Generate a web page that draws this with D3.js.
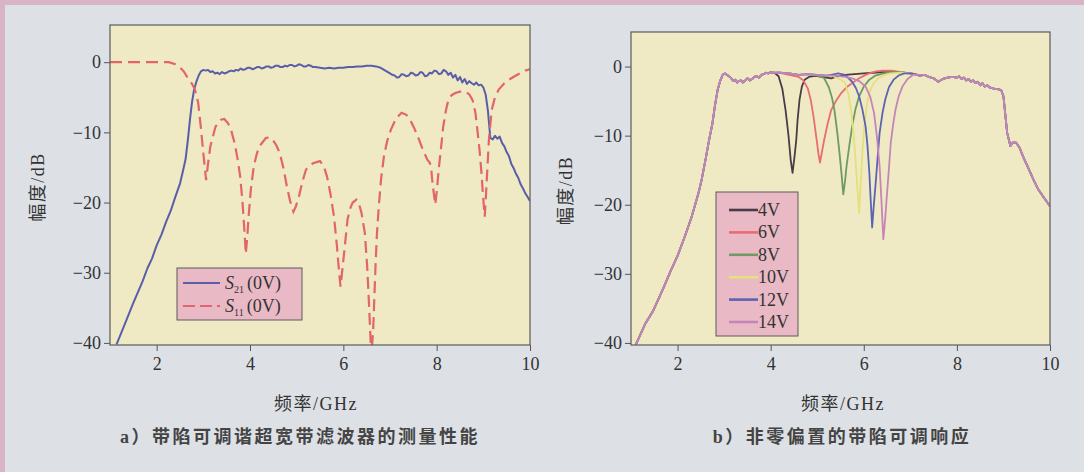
<!DOCTYPE html>
<html>
<head>
<meta charset="utf-8">
<script src="https://cdn.jsdelivr.net/npm/d3@7"></script>
<style>
  body { margin: 0; background: #dde1e6; }
  svg { display: block; }
  .tick text { font-family: "Liberation Serif", serif; font-size: 18px; fill: #333; }
  .ttl { font-family: "Liberation Serif", "Noto Sans CJK SC", serif; fill: #333; }
</style>
</head>
<body>
<svg id="chart" width="1084" height="472"></svg>
<script>
// ---- data: panel a) measured S21 / S11 at 0 V  [GHz, dB]
const s21 = [
  [1.14,-40.2],[1.3,-37.6],[1.5,-34.3],[1.7,-31.2],[1.8,-29.4],[1.9,-28.0],[2.0,-26.1],[2.1,-24.6],
  [2.2,-22.8],[2.3,-21.2],[2.4,-19.2],[2.5,-17.3],[2.56,-15.6],[2.62,-13.8],[2.67,-11.0],[2.72,-7.8],
  [2.76,-5.6],[2.8,-4.0],[2.85,-2.8],[2.9,-1.9],[2.95,-1.3],[3.0,-1.1],[3.05,-1.2],[3.1,-1.1],
  [3.15,-1.4],[3.2,-1.3],[3.25,-1.6],[3.3,-1.5],[3.35,-1.7],[3.4,-1.4],[3.45,-1.6],[3.5,-1.5],[3.55,-1.3],[3.6,-1.2],
  [3.65,-1.3],[3.7,-1.1],[3.75,-1.2],[3.8,-0.9],[3.85,-1.1],[3.9,-1.0],[3.95,-0.8],[4.0,-0.8],[4.05,-1.0],[4.1,-0.9],[4.15,-0.7],[4.2,-0.7],[4.25,-0.9],[4.3,-0.8],[4.35,-0.6],[4.4,-0.6],
  [4.45,-0.8],[4.5,-0.7],[4.55,-0.5],[4.6,-0.5],[4.65,-0.7],[4.7,-0.7],[4.75,-0.5],[4.8,-0.6],[4.85,-0.4],[4.9,-0.4],[4.95,-0.6],[5.0,-0.5],[5.05,-0.3],[5.1,-0.4],[5.15,-0.6],[5.2,-0.6],
  [5.25,-0.4],[5.3,-0.5],[5.35,-0.7],[5.4,-0.7],[5.5,-0.8],[5.6,-0.9],[5.7,-0.8],[5.8,-0.9],[5.9,-0.8],[6.0,-0.8],
  [6.1,-0.7],[6.2,-0.7],[6.3,-0.6],[6.4,-0.6],[6.5,-0.5],[6.6,-0.5],[6.7,-0.6],[6.8,-0.8],
  [6.9,-1.2],[7.0,-1.6],[7.05,-1.8],[7.1,-1.9],[7.15,-2.2],[7.2,-2.1],[7.25,-1.7],[7.3,-1.8],[7.35,-2.0],[7.4,-1.9],[7.45,-1.5],[7.5,-1.6],[7.55,-1.9],[7.6,-1.8],
  [7.65,-1.4],[7.7,-1.5],[7.75,-2.0],[7.8,-1.9],[7.85,-1.5],[7.9,-1.6],[7.95,-1.2],[8.0,-1.3],[8.05,-1.7],[8.1,-1.6],[8.15,-1.1],[8.2,-1.3],[8.25,-1.8],[8.3,-1.5],
  [8.35,-2.2],[8.4,-1.8],[8.45,-2.6],[8.5,-2.1],[8.55,-2.9],[8.6,-2.4],[8.65,-3.1],[8.7,-2.7],
  [8.75,-3.0],[8.8,-3.2],[8.85,-2.9],[8.9,-3.3],[8.95,-3.2],[9.0,-3.6],[9.05,-4.6],[9.1,-7.0],
  [9.15,-10.8],[9.2,-11.0],[9.25,-10.5],[9.3,-10.9],[9.35,-10.6],[9.4,-11.5],[9.45,-12.0],[9.5,-12.8],
  [9.55,-13.4],[9.6,-14.5],[9.65,-15.1],[9.7,-15.9],[9.75,-16.5],[9.8,-17.4],[9.85,-18.0],[9.9,-18.7],
  [9.95,-19.2],[10.0,-19.8]
];
const s11 = [
  [1.0,0],[1.5,0],[2.0,0],[2.26,0],[2.4,-0.3],[2.48,-0.6],[2.58,-1.3],[2.67,-2.3],[2.75,-3.0],
  [2.82,-3.9],[2.89,-5.8],[2.95,-9.5],[3.0,-13],[3.06,-16.8],[3.1,-14.5],[3.15,-12],[3.26,-9.2],
  [3.38,-8.2],[3.45,-8.1],[3.53,-8.7],[3.6,-9.8],[3.67,-11.5],[3.74,-14],[3.79,-16.3],[3.84,-20],
  [3.88,-24],[3.91,-27.3],[3.94,-25],[3.97,-22],[4.02,-18],[4.08,-14.9],[4.14,-13.2],[4.2,-12],
  [4.34,-10.8],[4.42,-10.7],[4.49,-11.1],[4.57,-11.9],[4.64,-13],[4.72,-15.2],[4.79,-17.7],
  [4.86,-19.8],[4.93,-21.3],[4.98,-20.6],[5.05,-19.1],[5.12,-17.1],[5.2,-15.3],[5.35,-14.4],
  [5.5,-14.1],[5.58,-14.8],[5.65,-16.3],[5.72,-18.6],[5.8,-22],[5.86,-26],[5.91,-30],[5.94,-32],
  [5.98,-29.5],[6.02,-27],[6.09,-22.4],[6.15,-20.8],[6.2,-20],[6.28,-19.6],[6.34,-20.3],[6.39,-21.5],
  [6.46,-24.3],[6.51,-29],[6.55,-34.5],[6.6,-42],[6.64,-38],[6.69,-29],[6.72,-24.5],[6.76,-20.5],
  [6.81,-16.6],[6.87,-13.4],[6.94,-11.2],[7.02,-9.6],[7.13,-8.0],[7.25,-7.2],[7.35,-7.5],[7.43,-8.2],
  [7.52,-9.4],[7.62,-11],[7.7,-12.4],[7.8,-13.9],[7.85,-14.3],[7.88,-14.9],[7.9,-16.5],[7.92,-17.7],
  [7.97,-20.3],[8.0,-18.5],[8.05,-14.9],[8.1,-11.8],[8.14,-9.2],[8.2,-6.8],[8.25,-5.4],[8.32,-4.7],
  [8.4,-4.4],[8.5,-4.2],[8.62,-4.2],[8.7,-4.6],[8.77,-5.4],[8.83,-7.2],[8.88,-10.1],[8.92,-12.6],
  [8.96,-15.8],[9.0,-19.6],[9.03,-22],[9.05,-19.8],[9.07,-17.2],[9.12,-11],[9.18,-6.8],[9.25,-5.0],
  [9.33,-3.9],[9.45,-3.0],[9.55,-2.5],[9.67,-2.0],[9.78,-1.6],[9.9,-1.2],[10.0,-1.0]
];

// ---- data: panel b) response outside the notch, shared by all bias voltages
const baseB = [
  [1.1,-40.3],[1.3,-37.3],[1.48,-35.3],[1.7,-32.0],[1.85,-29.6],[2.0,-27.4],[2.15,-24.7],[2.3,-21.8],
  [2.37,-20.2],[2.45,-18.3],[2.52,-16.3],[2.6,-13.5],[2.67,-10.9],[2.75,-8.2],[2.8,-5.8],[2.86,-3.4],
  [2.92,-2.0],[2.97,-1.2],[3.02,-1.0],[3.08,-1.3],[3.14,-1.6],[3.2,-2.1],[3.24,-1.9],[3.28,-2.3],[3.32,-2.1],[3.36,-2.0],
  [3.4,-2.3],[3.44,-2.1],[3.5,-1.7],[3.55,-2.0],[3.6,-1.8],[3.65,-1.5],[3.7,-1.4],[3.75,-1.6],[3.8,-1.2],[3.85,-1.1],[3.9,-0.9],[3.95,-1.0],[4.0,-0.8],[4.1,-0.9],
  [4.2,-0.9],[4.4,-1.0],[4.6,-1.2],[4.8,-1.1],[5.0,-1.2],[5.2,-1.3],[5.4,-1.3],[5.6,-1.2],
  [5.8,-1.1],[6.0,-1.0],[6.2,-0.9],[6.4,-0.8],[6.6,-0.8],[6.8,-0.9],[7.0,-1.0],[7.1,-1.1],
  [7.2,-1.3],[7.3,-1.2],[7.4,-1.5],[7.5,-1.7],[7.6,-2.2],[7.7,-1.8],[7.8,-1.6],[7.9,-1.5],
  [8.0,-1.6],[8.05,-1.4],[8.1,-1.8],[8.15,-1.6],[8.2,-2.0],[8.25,-1.8],[8.3,-2.2],[8.35,-2.0],[8.4,-2.4],[8.45,-2.2],[8.5,-2.7],[8.55,-2.4],[8.6,-2.9],[8.65,-2.7],[8.7,-3.0],
  [8.8,-3.2],[8.9,-3.3],[8.95,-3.4],[9.0,-4.3],[9.08,-9.6],[9.15,-11.5],[9.2,-11.0],[9.27,-11.0],
  [9.35,-11.8],[9.42,-13.0],[9.52,-14.5],[9.64,-16.3],[9.75,-17.8],[9.87,-19.0],[10.0,-20.2]
];
// notch segments per bias voltage (replace the base inside their span)
const notch4V = [[4.1,-1.0],[4.17,-1.4],[4.25,-3.2],[4.32,-6.3],[4.38,-9.8],[4.43,-13.5],[4.47,-15.4],[4.51,-13.2],[4.55,-10.6],[4.58,-7.6],[4.62,-4.8],[4.67,-2.9],[4.73,-1.9],[4.82,-1.5],[4.92,-1.4],[5.0,-1.4],[5.1,-1.5],[5.2,-1.6],[5.3,-1.7],[5.4,-1.5]];
const notch6V = [[4.4,-1.2],[4.6,-1.5],[4.7,-2.0],[4.8,-3.2],[4.86,-4.8],[4.92,-7.2],[4.98,-10.2],[5.03,-12.8],[5.06,-13.9],[5.1,-12.4],[5.15,-10.6],[5.22,-8.4],[5.3,-6.3],[5.4,-5.0],[5.52,-3.8],[5.63,-3.0],[5.75,-2.4],[5.9,-1.7],[6.04,-1.2],[6.15,-0.9],[6.27,-0.7],[6.4,-0.6],[6.6,-0.6],[6.8,-0.8]];
const notch8V = [[4.9,-1.2],[5.05,-1.4],[5.15,-1.7],[5.25,-3.0],[5.32,-4.6],[5.37,-6.3],[5.43,-9.5],[5.48,-12.6],[5.52,-15.4],[5.56,-18.5],[5.6,-16.4],[5.63,-14.4],[5.69,-11.4],[5.75,-8.7],[5.82,-6.2],[5.9,-4.3],[6.0,-2.9],[6.12,-1.9],[6.25,-1.3],[6.42,-1.0],[6.6,-0.8],[6.8,-0.8]];
const notch10V = [[5.3,-1.3],[5.45,-1.7],[5.55,-2.1],[5.6,-2.4],[5.67,-4.0],[5.73,-6.5],[5.78,-9.6],[5.82,-13.2],[5.86,-17.3],[5.9,-21.2],[5.93,-17.3],[5.97,-12.5],[6.01,-8.7],[6.06,-5.8],[6.12,-3.8],[6.2,-2.5],[6.31,-1.7],[6.45,-1.2],[6.57,-1.0],[6.8,-0.9],[7.0,-1.0]];
const notch12V = [[5.3,-1.2],[5.45,-1.0],[5.6,-1.2],[5.75,-2.2],[5.83,-3.1],[5.9,-4.3],[5.97,-6.2],[6.04,-8.7],[6.08,-11.5],[6.12,-15.4],[6.15,-19.5],[6.18,-23.3],[6.21,-20.5],[6.25,-17.3],[6.3,-13.0],[6.34,-9.6],[6.4,-6.8],[6.46,-4.8],[6.54,-3.0],[6.64,-1.9],[6.75,-1.3],[6.87,-1.0],[7.0,-1.0],[7.1,-1.1]];
const notch14V = [[5.4,-1.3],[5.6,-1.5],[5.75,-1.7],[5.9,-2.1],[6.04,-2.9],[6.14,-4.4],[6.22,-6.7],[6.28,-10.0],[6.34,-14.4],[6.38,-19.5],[6.42,-25.0],[6.46,-22.0],[6.49,-19.2],[6.54,-14.8],[6.58,-11.0],[6.63,-8.4],[6.68,-6.3],[6.75,-4.3],[6.83,-2.9],[6.94,-1.8],[7.06,-1.2],[7.2,-1.2]];

const biasLabels = ["4V", "6V", "8V", "10V", "12V", "14V"];
const biasColors = ["#4b3a48", "#ea6b72", "#6f9a63", "#e4e07a", "#5b63b2", "#c585b8"];
const biasNotches = [notch4V, notch6V, notch8V, notch10V, notch12V, notch14V];

const xTicks = [2, 4, 6, 8, 10];
const yTicks = [0, -10, -20, -30, -40];

// ---- drawing
const svg = d3.select("#chart");
svg.append("rect").attr("x", 0).attr("y", 0).attr("width", 1084).attr("height", 5).attr("fill", "#d9b3c6");
svg.append("rect").attr("x", 0).attr("y", 0).attr("width", 5).attr("height", 472).attr("fill", "#d9b3c6");

function splice(base, seg) {
  const lo = seg[0][0], hi = seg[seg.length - 1][0];
  return base.filter(d => d[0] < lo).concat(seg, base.filter(d => d[0] > hi));
}

function panel(id, c) {
  const x = d3.scaleLinear().domain([1, 10]).range([c.x0, c.x1]);
  const y = d3.scaleLinear().domain([c.yBot, c.yTop]).range([c.y1, c.y0]);
  const g = svg.append("g");

  g.append("rect")
    .attr("x", c.x0).attr("y", c.y0)
    .attr("width", c.x1 - c.x0).attr("height", c.y1 - c.y0)
    .attr("fill", "#efeac4");

  svg.append("clipPath").attr("id", id)
    .append("rect")
    .attr("x", c.x0).attr("y", c.y0)
    .attr("width", c.x1 - c.x0).attr("height", c.y1 - c.y0);

  const ax = g.append("g")
    .attr("transform", "translate(0," + c.y1 + ")")
    .call(d3.axisBottom(x).tickValues(xTicks).tickSize(6).tickPadding(6).tickSizeOuter(0));
  const ay = g.append("g")
    .attr("transform", "translate(" + c.x0 + ",0)")
    .call(d3.axisLeft(y).tickValues(yTicks).tickSize(6).tickPadding(3).tickSizeOuter(0));
  [ax, ay].forEach(a => {
    a.select(".domain").remove();
    a.selectAll("line").attr("stroke", "#555");
  });

  const lines = g.append("g").attr("clip-path", "url(#" + id + ")");
  const line = d3.line().x(d => x(d[0])).y(d => y(d[1]));

  g.append("text").attr("class", "ttl")
    .attr("transform", "translate(" + c.yLabX + "," + ((c.y0 + c.y1) / 2 + 2) + ") rotate(-90)")
    .attr("text-anchor", "middle").attr("dy", "0.35em")
    .style("font-size", "18px").style("letter-spacing", "1.5px")
    .text("幅度/dB");
  g.append("text").attr("class", "ttl")
    .attr("x", c.xLabX).attr("y", 410)
    .attr("text-anchor", "middle")
    .style("font-size", "18px").style("letter-spacing", "1.5px")
    .text("频率/GHz");
  g.append("text").attr("class", "ttl")
    .attr("x", c.capX).attr("y", 443)
    .attr("text-anchor", "middle")
    .style("font-size", "18px").style("letter-spacing", "2.5px").style("font-weight", "bold")
    .style("fill", "#444")
    .text(c.caption);

  return { x, y, g, lines, line, c };
}

function frame(p) {
  const c = p.c;
  p.g.append("rect")
    .attr("x", c.x0).attr("y", c.y0)
    .attr("width", c.x1 - c.x0).attr("height", c.y1 - c.y0)
    .attr("fill", "none").attr("stroke", "#5a5a5a").attr("stroke-width", 1.2);
}

// panel a
const pa = panel("clipA", { x0: 110, x1: 530, y0: 25, y1: 345, yBot: -40.3, yTop: 5.3,
  yLabX: 38, xLabX: 316, capX: 300, caption: "a）带陷可调谐超宽带滤波器的测量性能" });

pa.lines.append("path").datum(s21)
  .attr("fill", "none").attr("stroke", "#5a5ea8").attr("stroke-width", 2)
  .attr("stroke-linejoin", "round").attr("d", pa.line);
pa.lines.append("path").datum(s11)
  .attr("fill", "none").attr("stroke", "#e2646c").attr("stroke-width", 2.2)
  .attr("stroke-dasharray", "12,6").attr("d", pa.line);
frame(pa);

const legA = pa.g.append("g");
legA.append("rect").attr("x", 177).attr("y", 268).attr("width", 125).attr("height", 52)
  .attr("fill", "#e9bac5").attr("stroke", "#5a5a5a").attr("stroke-width", 1);
[
  { sub: "21", color: "#5a5ea8", dash: null, yy: 283 },
  { sub: "11", color: "#e2646c", dash: "12,5", yy: 306 }
].forEach(e => {
  legA.append("line").attr("x1", 183).attr("x2", 220).attr("y1", e.yy).attr("y2", e.yy)
    .attr("stroke", e.color).attr("stroke-width", 2).attr("stroke-dasharray", e.dash);
  const t = legA.append("text").attr("class", "ttl").attr("x", 225).attr("y", e.yy + 6)
    .style("font-size", "18px");
  t.append("tspan").style("font-style", "italic").text("S");
  t.append("tspan").attr("dy", 4).style("font-size", "10px").text(e.sub);
  t.append("tspan").attr("dy", -4).attr("dx", 3).text("(0V)");
});

// panel b
const pb = panel("clipB", { x0: 631, x1: 1050, y0: 32, y1: 345, yBot: -40.3, yTop: 5.0,
  yLabX: 566, xLabX: 843, capX: 842, caption: "b）非零偏置的带陷可调响应" });

biasNotches.forEach((seg, i) => {
  pb.lines.append("path").datum(splice(baseB, seg))
    .attr("fill", "none").attr("stroke", biasColors[i]).attr("stroke-width", 1.8)
    .attr("stroke-linejoin", "round").attr("d", pb.line);
});
frame(pb);

const legB = pb.g.append("g");
legB.append("rect").attr("x", 716).attr("y", 192).attr("width", 82).attr("height", 144)
  .attr("fill", "#e9bac5").attr("stroke", "#5a5a5a").attr("stroke-width", 1);
biasLabels.forEach((lab, i) => {
  const yy = 210 + i * 22.4;
  legB.append("line").attr("x1", 729).attr("x2", 758).attr("y1", yy).attr("y2", yy)
    .attr("stroke", biasColors[i]).attr("stroke-width", 2.6);
  legB.append("text").attr("class", "ttl").attr("x", 758).attr("y", yy + 6)
    .style("font-size", "18px").text(lab);
});
</script>
</body>
</html>
